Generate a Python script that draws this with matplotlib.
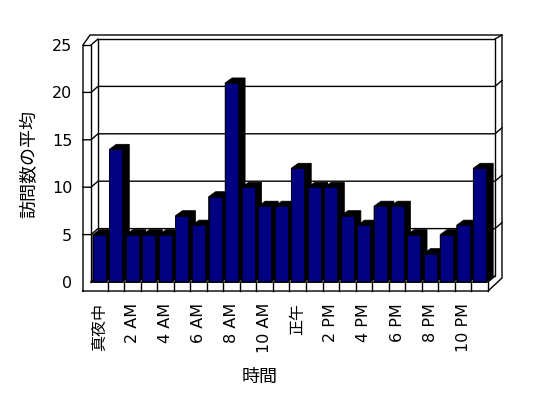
import matplotlib
matplotlib.use("Agg")
import matplotlib.pyplot as plt
from matplotlib.patches import Polygon
from matplotlib.lines import Line2D
from matplotlib.transforms import IdentityTransform

plt.rcParams['font.family'] = ['DejaVu Sans', 'Noto Sans CJK JP']

# data
hours = list(range(24))
visits = [5, 14, 5, 5, 5, 7, 6, 9, 21, 10, 8, 8,
          12, 10, 10, 7, 6, 8, 8, 5, 3, 5, 6, 12]
tick_pos = list(range(0, 24, 2))
tick_labels = ['真夜中', '2 AM', '4 AM', '6 AM', '8 AM', '10 AM',
               '正午', '2 PM', '4 PM', '6 PM', '8 PM', '10 PM']
y_ticks = [0, 5, 10, 15, 20, 25]

W, H = 548, 398
fig = plt.figure(figsize=(W / 100, H / 100), dpi=100)
fig.patch.set_facecolor('white')

# front plane of the 3d box, in pixels
left_px, right_px, top_px, bot_px = 91, 488, 45, 282
ax = fig.add_axes([left_px / W, (H - bot_px) / H,
                   (right_px - left_px) / W, (bot_px - top_px) / H])
ax.set_xlim(-0.5, 23.5)
ax.set_ylim(0, 25)
ax.set_facecolor('none')
for s in ax.spines.values():
    s.set_visible(False)

x0, x1 = -0.5, 23.5


def P(x, v, ox=0, oy=0):
    # data point -> display pixels, plus pixel offset (y up)
    px, py = ax.transData.transform((x, v))
    return (px + ox, py + oy)


def line(pts, z=1, lw=1.0):
    xs, ys = zip(*[P(*p) for p in pts])
    ax.add_line(Line2D(xs, ys, color='black', lw=lw, zorder=z, clip_on=False,
                       transform=IdentityTransform(), solid_joinstyle='miter'))


# back wall and frame
wall = Polygon([P(x0, 0, 7, 6), P(x0, 25, 7, 6), P(x1, 25, 7, 6), P(x1, 0, 7, 6)],
               closed=True, facecolor='white', edgecolor='black', lw=1.0,
               transform=IdentityTransform(), clip_on=False, zorder=0.5)
ax.add_patch(wall)

line([(x0, 0, -8, -9), (x1, 0, 0, -9), (x1, 0, 14, 4), (x1, 25, 14, 10),
      (x0, 25, -1, 10), (x0, 25, -8, 0), (x0, 0, -8, -9)])
line([(x0, 25, -8, 0), (x0, 25, 0, 0), (x0, 0, 0, 0)])
line([(x0, 25, 0, 0), (x0, 25, 7, 6)])
line([(x0, 0, 0, 0), (x0, 0, 7, 6)])
line([(x1, 25, 7, 6), (x1, 25, 14, 10)])
line([(x0, 0, 0, 0), (x1, 0, 0, 0), (x1, 0, 7, 6)], z=4)
line([(x1, 0, 0, -9), (x1, 0, 0, 0)], z=4)
for v in y_ticks[1:-1]:
    line([(x0, v, -8, 0), (x0, v, 0, 0), (x0, v, 7, 6), (x1, v, 7, 6), (x1, v, 14, 12)])
for k in range(23):
    line([(k + 0.5, 0, 0, -9), (k + 0.5, 0, 0, 0)], z=4)

# bars: black depth faces first, navy fronts on top
bw = 0.785
dx, dy = 7, 5
for i, v in zip(hours, visits):
    l, r = i - bw / 2, i + bw / 2
    pts = [P(l, 0), P(l, v), P(l, v, dx, dy), P(r, v, dx, dy), P(r, 0, dx, dy), P(r, 0)]
    ax.add_patch(Polygon(pts, closed=True, facecolor='black', edgecolor='black',
                         lw=0.5, transform=IdentityTransform(), clip_on=False, zorder=2))
ax.bar(hours, visits, width=bw, color='#000080', edgecolor='black', lw=0.5,
       zorder=3, clip_on=False)

ax.set_yticks(y_ticks)
ax.set_yticklabels([str(t) for t in y_ticks])
ax.set_xticks(tick_pos)
ax.set_xticklabels(tick_labels)
ax.tick_params(axis='y', length=0, pad=13.5, labelsize=11.5)
ax.tick_params(axis='x', length=0, pad=15, labelsize=11.5, labelrotation=90)

ax.set_xlabel('時間', fontsize=13, va='center')
ax.xaxis.set_label_coords((260 - left_px) / (right_px - left_px),
                          (bot_px - 377) / (bot_px - top_px))
ax.set_ylabel('訪問数の平均', fontsize=13, va='center')
ax.yaxis.set_label_coords((29 - left_px) / (right_px - left_px),
                          (bot_px - 164) / (bot_px - top_px))

fig.savefig('out.png', dpi=100)
